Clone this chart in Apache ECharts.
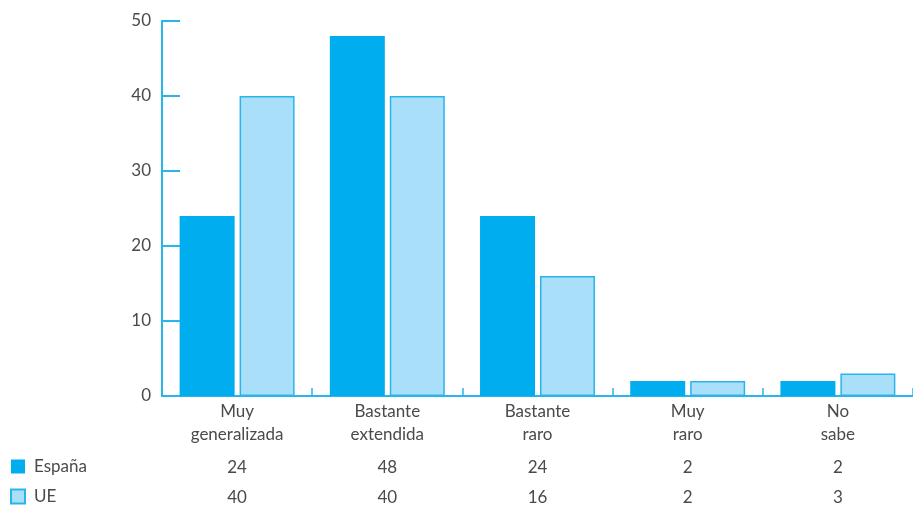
<!DOCTYPE html>
<html>
<head>
<meta charset="utf-8">
<script src="https://cdn.jsdelivr.net/npm/echarts@6/dist/echarts.min.js"></script>
<style>
html,body{margin:0;padding:0;background:#fff;}
#chart{width:913px;height:506px;}
</style>
</head>
<body>
<div id="chart"></div>
<script>
var categories = ['Muy\ngeneralizada', 'Bastante\nextendida', 'Bastante\nraro', 'Muy\nraro', 'No\nsabe'];
var seriesNames = ['España', 'UE'];
var espana = [24, 48, 24, 2, 2];
var ue = [40, 40, 16, 2, 3];
var yTicks = [0, 10, 20, 30, 40, 50];

var FONT = 'Lato';
var TXT = '#4a4a4a';
var AXIS = '#29B5EC';
var DARK = '#00AEEF';
var LIGHT = '#AADFF9';

var chart = echarts.init(document.getElementById('chart'));
chart.setOption({
  animation: false,
  textStyle: { fontFamily: FONT },
  grid: { left: 162, right: 0, top: 21, bottom: 109, containLabel: false },
  legend: {
    orient: 'vertical',
    left: 10,
    top: 458,
    padding: 0,
    height: 60,
    itemWidth: 14,
    itemHeight: 14,
    itemGap: 13,
    icon: 'rect',
    textStyle: { fontFamily: FONT, fontSize: 17, color: TXT, padding: [0, 0, 0, 4] },
    data: seriesNames
  },
  xAxis: [
    {
      type: 'category',
      data: categories,
      axisLine: { show: true, lineStyle: { color: AXIS, width: 2 } },
      axisTick: { show: true, inside: true, length: 8, lineStyle: { color: AXIS, width: 1.5 } },
      axisLabel: { fontFamily: FONT, fontSize: 17, color: TXT, lineHeight: 23, margin: 4 }
    },
    {
      type: 'category',
      position: 'bottom',
      offset: 52,
      data: espana.map(String),
      axisLine: { show: false },
      axisTick: { show: false },
      axisLabel: { fontFamily: FONT, fontSize: 17, color: TXT, margin: 11 }
    },
    {
      type: 'category',
      position: 'bottom',
      offset: 82,
      data: ue.map(String),
      axisLine: { show: false },
      axisTick: { show: false },
      axisLabel: { fontFamily: FONT, fontSize: 17, color: TXT, margin: 11 }
    }
  ],
  yAxis: {
    type: 'value',
    min: yTicks[0],
    max: yTicks[yTicks.length - 1],
    interval: 10,
    splitLine: { show: false },
    axisLine: { show: true, lineStyle: { color: AXIS, width: 2 } },
    axisTick: { show: true, inside: true, length: 18, lineStyle: { color: AXIS, width: 2 } },
    axisLabel: { fontFamily: FONT, fontSize: 17, color: TXT, margin: 11 }
  },
  series: [
    {
      name: seriesNames[0],
      type: 'bar',
      data: espana,
      barWidth: 55,
      barGap: '9%',
      itemStyle: { color: DARK }
    },
    {
      name: seriesNames[1],
      type: 'bar',
      data: ue,
      barWidth: 55,
      itemStyle: { color: LIGHT, borderColor: AXIS, borderWidth: 1.5 }
    }
  ]
});
</script>
</body>
</html>
